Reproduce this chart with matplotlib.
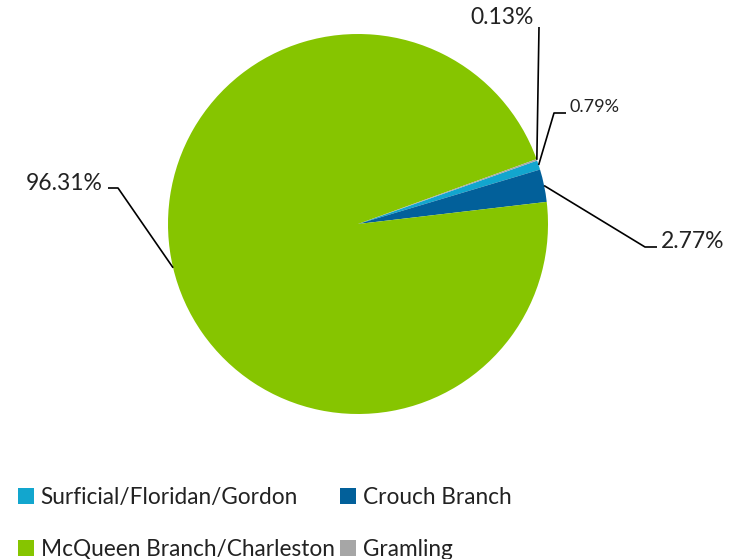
import matplotlib.pyplot as plt
import numpy as np

# Share of each aquifer unit
units = ["Surficial/Floridan/Gordon", "Crouch Branch",
         "McQueen Branch/Charleston", "Gramling"]
shares = [0.79, 2.77, 96.31, 0.13]
colors = ["#12A6CE", "#02609A", "#86C500", "#A6A6A6"]

plt.rcParams["font.family"] = ["Lato", "DejaVu Sans"]

fig = plt.figure(figsize=(7.30, 5.59), dpi=100)
ax = fig.add_axes([0, 0, 1, 1])

cx, cy, r = 358, 335, 190
wedges, _ = ax.pie(shares, colors=colors, startangle=19.5, counterclock=False,
                   center=(cx, cy), radius=r, frame=True,
                   wedgeprops=dict(linewidth=0))
ax.set_xlim(0, 730)
ax.set_ylim(0, 559)
ax.set_aspect("equal")
ax.axis("off")

# label layout: elbow point, end of the short flat tail, text anchor
layout = {
    "Surficial/Floridan/Gordon": ((554, 446), (566, 446), (569, 452), "left", 13),
    "Crouch Branch": ((645, 312), (657, 312), (661, 317), "left", 16.5),
    "McQueen Branch/Charleston": ((118, 371), (108, 371), (103, 376), "right", 16.5),
    "Gramling": ((539, 532), (539, 532), (534, 541), "right", 16.5),
}

for w, name, val in zip(wedges, units, shares):
    mid = np.deg2rad((w.theta1 + w.theta2) / 2)
    ex, ey = cx + r * np.cos(mid), cy + r * np.sin(mid)
    elbow, tail, txt, ha, fs = layout[name]
    ax.plot([ex, elbow[0], tail[0]], [ey, elbow[1], tail[1]],
            color="black", lw=1.2, solid_capstyle="butt")
    ax.text(txt[0], txt[1], f"{val:.2f}%", ha=ha, va="center",
            fontsize=fs, color="#222222")

# legend filled row by row
order = [0, 2, 1, 3]
ax.legend([wedges[i] for i in order], [units[i] for i in order],
          loc="upper left", bbox_to_anchor=(18 / 730, 1 - 487 / 559),
          bbox_transform=fig.transFigure, ncol=2, frameon=False, fontsize=16.3,
          handlelength=0.7, handleheight=0.7, handletextpad=0.3,
          columnspacing=0.25, labelspacing=1.35, borderaxespad=0,
          borderpad=0, labelcolor="#222222")

fig.savefig("out.png", dpi=100)
